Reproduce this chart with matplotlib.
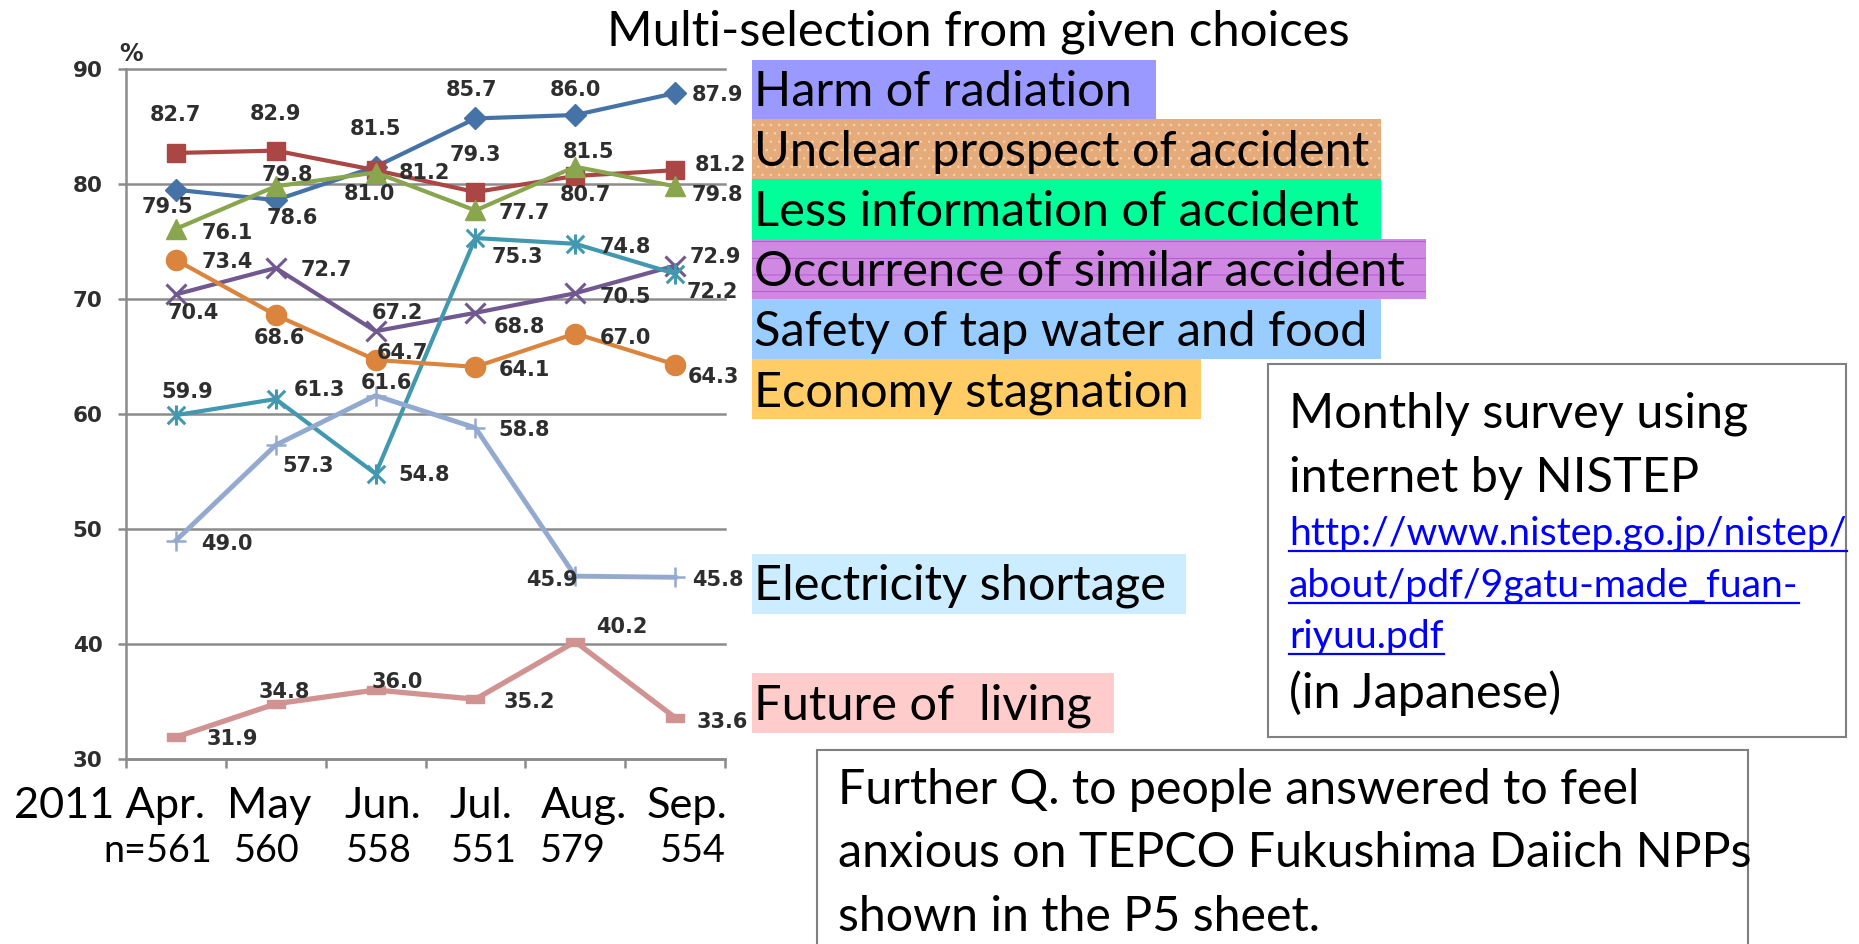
import matplotlib
matplotlib.use("Agg")
import matplotlib.pyplot as plt
from matplotlib.patches import Rectangle
from matplotlib.lines import Line2D
from matplotlib.path import Path
from matplotlib.transforms import IdentityTransform
import numpy as np

# ---------------- data ----------------
months = ["2011 Apr.", "May", "Jun.", "Jul.", "Aug.", "Sep."]
sample_sizes = ["n=561", "560", "558", "551", "579", "554"]
series_names = ["Harm of radiation", "Unclear prospect of accident",
                "Less information of accident", "Occurrence of similar accident",
                "Safety of tap water and food", "Economy stagnation",
                "Electricity shortage", "Future of  living"]
harm = [79.5, 78.6, 81.5, 85.7, 86.0, 87.9]
unclear = [82.7, 82.9, 81.2, 79.3, 80.7, 81.2]
less_info = [76.1, 79.8, 81.0, 77.7, 81.5, 79.8]
occurrence = [70.4, 72.7, 67.2, 68.8, 70.5, 72.9]
safety = [59.9, 61.3, 54.8, 75.3, 74.8, 72.2]
economy = [73.4, 68.6, 64.7, 64.1, 67.0, 64.3]
electricity = [49.0, 57.3, 61.6, 58.8, 45.9, 45.8]
future = [31.9, 34.8, 36.0, 35.2, 40.2, 33.6]
y_ticks = [30, 40, 50, 60, 70, 80, 90]
title = "Multi-selection from given choices"
note1 = ["Monthly survey using", "internet by NISTEP"]
url_lines = ["http://www.nistep.go.jp/nistep/", "about/pdf/9gatu-made_fuan-", "riyuu.pdf"]
note1_tail = "(in Japanese)"
note2 = ["Further Q. to people answered to feel",
         "anxious on TEPCO Fukushima Daiich NPPs",
         "shown in the P5 sheet."]

# ---------------- styles / layout ----------------
W, H, DPI = 1859, 944, 100
plt.rcParams["font.family"] = ["DejaVu Sans"]
plt.rcParams["hatch.linewidth"] = 0.6
BIG = ["Lato", "DejaVu Sans"]

ast = Path([(-1, -1), (1, 1), (-1, 1), (1, -1), (0, -1.15), (0, 1.15)],
           [Path.MOVETO, Path.LINETO, Path.MOVETO, Path.LINETO, Path.MOVETO, Path.LINETO])
dash = [(-1, -0.38), (1, -0.38), (1, 0.38), (-1, 0.38), (-1, -0.38)]

styles = [
    dict(color="#4572A7", marker="D", ms=11),
    dict(color="#AA4643", marker="s", ms=13),
    dict(color="#89A54E", marker="^", ms=14.5),
    dict(color="#71588F", marker="x", ms=14.5, mew=2.2),
    dict(color="#4198AF", marker=ast, ms=14.5, mew=2.2, mfc="none"),
    dict(color="#DB843D", marker="o", ms=14.5),
    dict(color="#93A9D0", marker="+", ms=15, mew=1.8),
    dict(color="#D19392", marker=dash, ms=13.5),
]
line_widths = [3.0, 3.0, 3.0, 3.0, 3.0, 3.0, 3.5, 3.8]
# data-label offsets (pixels; dx right, dy down)
label_offsets = [
    [(-8, 17), (17, 18), (0, -38), (-4, -28), (0, -25), (42, 2)],
    [(0, -38), (0, -37), (49, 3), (0, -37), (10, 19), (45, -5)],
    [(51, 4), (12, -11), (-6, 21), (49, 3), (13, -15), (42, 9)],
    [(17, 19), (51, 2), (22, -18), (44, 14), (50, 4), (40, -9)],
    [(11, -23), (44, -9), (49, 1), (42, 19), (50, 3), (37, 18)],
    [(51, 2), (4, 23), (27, -7), (49, 3), (50, 4), (38, 12)],
    [(51, 3), (32, 21), (11, -13), (49, 2), (-23, 4), (43, 3)],
    [(56, 2), (9, -12), (22, -8), (54, 3), (47, -15), (47, 4)],
]
box_colors = ["#9999FF", "#E5AB7B", "#00FF99", "#D089E3", "#99CCFF", "#FFCC66", "#CCECFF", "#FFCCCC"]
box_hatch = [None, "..", None, "-", None, None, None, None]
box_hatch_col = [None, "#F3D2B2", None, "#B050D0", None, None, None, None]
boxes = [(752, 60, 1156, 119), (752, 119, 1381, 179), (752, 179, 1381, 239),
         (752, 239, 1426, 299), (752, 299, 1381, 359), (752, 359, 1201, 419),
         (752, 554, 1186, 614), (752, 673, 1114, 733)]
legend_baselines = [106, 166, 226, 286, 346, 406, 600, 719]
legend_widths = [378, 618, 607, 653, 611, 432, 410, 333]

fig = plt.figure(figsize=(W / DPI, H / DPI), dpi=DPI)
fig.patch.set_facecolor("white")
renderer = fig.canvas.get_renderer()


def ftext(x, y, s, **kw):
    return fig.text(x / W, 1 - y / H, s, **kw)


def fit(texts, widths):
    actual = sum(t.get_window_extent(renderer).width for t in texts)
    scale = sum(widths) / actual
    for t in texts:
        t.set_fontsize(t.get_fontsize() * scale)


def rect(x0, y0, x1, y1, **kw):
    r = Rectangle((x0 / W, 1 - y1 / H), (x1 - x0) / W, (y1 - y0) / H,
                  transform=fig.transFigure, **kw)
    fig.add_artist(r)
    return r


# ---------------- chart ----------------
ax = fig.add_axes([126 / W, 1 - 759 / H, (725 - 126) / W, (759 - 69) / H])
x = np.arange(len(months))
all_series = [harm, unclear, less_info, occurrence, safety, economy, electricity, future]
for k, (vals, st) in enumerate(zip(all_series, styles)):
    st = dict(st)
    c = st.pop("color")
    ax.plot(x, vals, color=c, lw=line_widths[k], mec=c, mfc=st.pop("mfc", c),
            zorder=3 + k * 0.1, clip_on=False, **st)
    for i, v in enumerate(vals):
        dx, dy = label_offsets[k][i]
        ax.annotate(f"{v:.1f}", (i, v), xytext=(dx, -dy), textcoords="offset pixels",
                    ha="center", va="center", fontsize=15, fontweight="bold",
                    color="#2e2e2e", zorder=6)

ax.set_xlim(-0.5, len(months) - 0.5)
ax.set_ylim(30, 90)
ax.set_yticks(y_ticks)
ax.set_xticks(np.arange(-0.5, len(months), 1))
ax.set_xticklabels([])
ax.yaxis.grid(True, color="#8c8c8c", lw=1.8)
for gl in ax.get_ygridlines():
    gl.set_clip_on(False)
ax.set_axisbelow(True)
for s in ["top", "right"]:
    ax.spines[s].set_visible(False)
for s in ["left", "bottom"]:
    ax.spines[s].set_color("#8c8c8c")
    ax.spines[s].set_linewidth(1.8)
ax.tick_params(axis="y", length=6, width=1.8, color="#8c8c8c", labelsize=15.5,
               labelcolor="#2e2e2e", pad=11)
for lab in ax.get_yticklabels():
    lab.set_fontweight("bold")
ax.tick_params(axis="x", length=6.5, width=1.8, color="#8c8c8c")
ax.set_facecolor("none")
ftext(131, 54, "%", fontsize=17, fontweight="bold", color="#2e2e2e", ha="center", va="center")

# month and n labels
mt = [ftext(cx, 818, m, family=BIG, fontsize=30, ha="center", va="baseline")
      for cx, m in zip([110, 269, 383, 481, 584, 687], months)]
fit(mt, [185, 83, 79, 65, 89, 81])
nt = [ftext(cx, 862, n, family=BIG, fontsize=26, ha="center", va="baseline")
      for cx, n in zip([158, 267, 379, 484, 573, 693], sample_sizes)]
fit(nt, [109, 77, 64, 62, 64, 62])

# title
tt = ftext(607, 45, title, family=BIG, fontsize=30, ha="left", va="baseline")
fit([tt], [742])

# legend boxes
lt = []
for (x0, y0, x1, y1), col, hat, hc, name, yb in zip(boxes, box_colors, box_hatch, box_hatch_col,
                                                  series_names, legend_baselines):
    if hat:
        rect(x0, y0, x1, y1, facecolor=col, hatch=hat, edgecolor=hc, lw=0, zorder=1)
    else:
        rect(x0, y0, x1, y1, facecolor=col, edgecolor="none", lw=0, zorder=1)
    lt.append(ftext(754, yb, name, family=BIG, fontsize=30, ha="left", va="baseline", zorder=2))
fit(lt, legend_widths)

# note box 1
rect(1268, 364, 1846, 737, facecolor="white", edgecolor="#808080", lw=1.5, zorder=1)
n1 = [ftext(1289, yb, s, family=BIG, fontsize=28, ha="left", va="baseline", zorder=2)
      for s, yb in zip(note1 + [note1_tail], [427, 492, 708])]
fit(n1, [462, 401, 280])
ut = [ftext(1289, yb, s, family=BIG, fontsize=24, color="#0000FF", ha="left", va="baseline", zorder=2)
      for s, yb in zip(url_lines, [545, 597, 648])]
fit(ut, [557, 513, 155])
for t, yb in zip(ut, [545, 597, 648]):
    bb = t.get_window_extent(renderer)
    yl = H - yb - 6
    fig.add_artist(Line2D([bb.x0, bb.x1], [yl, yl], transform=IdentityTransform(),
                          color="#0000FF", lw=1.6, zorder=2))

# note box 2
rect(817, 750, 1748, 980, facecolor="white", edgecolor="#808080", lw=1.5, zorder=1)
n2 = [ftext(838, yb, s, family=BIG, fontsize=28, ha="left", va="baseline", zorder=2)
      for s, yb in zip(note2, [804, 867, 931])]
fit(n2, [815, 900, 486])

fig.savefig("out.png", dpi=DPI, facecolor="white")
